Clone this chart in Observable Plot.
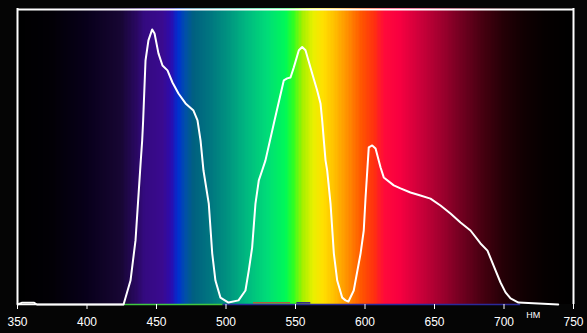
<!DOCTYPE html>
<html>
<head>
<meta charset="utf-8">
<script src="https://cdn.jsdelivr.net/npm/d3@7"></script>
<script src="https://cdn.jsdelivr.net/npm/@observablehq/plot@0.6"></script>
<style>
  html, body { margin: 0; padding: 0; background: #050505; }
  #chart { width: 587px; height: 333px; }
</style>
</head>
<body>
<div id="chart"></div>
<script>
// Spectrum background colour stops (wavelength nm -> colour)
const stopNm = [350, 375, 400, 425, 435, 442, 455, 461, 466, 471, 477, 490, 502, 515, 530, 543, 549, 555, 563, 570, 578, 587, 598, 607, 614, 625, 640, 655, 670, 685, 700, 715, 730, 750];
const stopColor = ["#000000", "#020006", "#08001a", "#170634", "#28085e", "#340a80", "#3a0a90", "#2a0cb0", "#0030d0", "#0050a8", "#006080", "#007880", "#009480", "#00b880", "#00dc78", "#00f858", "#30ff20", "#a0f000", "#e8f000", "#ffe000", "#ffc000", "#ff9400", "#ff5400", "#ff3010", "#ff0a3a", "#f80040", "#cc003a", "#a0002e", "#700020", "#460010", "#240006", "#100002", "#050000", "#000000"];

// Measured curve: wavelength (nm) and relative intensity
const wavelength = [350, 353, 355, 362, 364, 426.3, 431.3, 434.9, 438.7, 439.7, 440.4, 442.1, 444.2, 446.9, 448.6, 451.4, 454.3, 457.9, 461.5, 465.8, 470.9, 476.6, 479.5, 481.7, 483.8, 487.6, 490.1, 492.4, 496, 501.8, 509, 514, 516.4, 518.8, 521.2, 523.6, 526, 528.4, 534.9, 541.6, 544, 546.4, 548.8, 552.4, 554.8, 557.2, 562, 565.6, 568, 569.2, 570.4, 571.6, 572.8, 575.2, 577.6, 580, 583.6, 586, 588.1, 591.9, 596.8, 599.1, 600.4, 602.7, 605.2, 607.6, 611.2, 613.5, 620.7, 625.5, 632.7, 639.9, 647.1, 654.3, 661.5, 668.7, 675.9, 683.1, 688.1, 693.9, 697.5, 701.1, 704.7, 710.4, 739];
const intensity = [0, 0.6, 0.6, 0.6, 0, 0, 8.7, 23.3, 52.4, 59.6, 66.9, 88.7, 96, 100, 98.5, 91.3, 86.9, 85.1, 80.7, 76.7, 73.1, 70.5, 66.9, 59.6, 48.7, 36.7, 18.5, 8.7, 2.5, 0.7, 1.5, 5.1, 12.4, 20.7, 36.7, 45.1, 48.7, 52.4, 66.9, 81.5, 82.2, 82.5, 86.2, 92.4, 93.6, 92.4, 84, 77.8, 73.1, 66.9, 59.6, 52.4, 48.7, 36.7, 18.5, 8.7, 2.5, 1.5, 1.1, 5.1, 18.5, 26.9, 38.9, 57.1, 57.8, 56.7, 49.8, 46.2, 43.3, 42.2, 40.7, 39.6, 38.5, 36, 33.1, 29.8, 26.9, 22.2, 19.6, 12.4, 8, 4.4, 2.2, 0.7, 0];

// Baseline segments (start nm, end nm, colour)
const baseStart = [350, 427, 498];
const baseEnd = [427, 498, 712];
const baseColor = ["#ffffff", "#40c840", "#2a2a9a"];

// Small near-zero traces
const traceStart = [519.8, 551];
const traceEnd = [546.4, 561];
const traceColor = ["#b0603a", "#2a1a90"];

const tickNm = [350, 400, 450, 500, 550, 600, 650, 700, 750];
const unitLabel = "НМ";
const yMax = 107.6;

const curve = wavelength.map((w, i) => ({w, v: intensity[i]}));
const colorAt = d3.scaleLinear().domain(stopNm).range(stopColor).interpolate(d3.interpolateRgb).clamp(true);
const bg = d3.range(350, 750, 1).map(w => ({w, c: colorAt(w + 0.5)}));
const base = baseStart.map((s, i) => ({s, e: baseEnd[i], c: baseColor[i]}));
const traces = traceStart.map((s, i) => ({s, e: traceEnd[i], c: traceColor[i]}));

const chart = Plot.plot({
  width: 587,
  height: 333,
  marginLeft: 17,
  marginRight: 14,
  marginTop: 8,
  marginBottom: 29,
  style: {background: "#050505", color: "#fff", fontFamily: "'Liberation Sans', Arial, sans-serif"},
  x: {domain: [350, 750]},
  y: {domain: [0, yMax], axis: null},
  color: {type: "identity"},
  marks: [
    Plot.rect(bg, {x1: "w", x2: d => d.w + 1.3, fill: "c", shapeRendering: "crispEdges"}),
    Plot.ruleX([350, 750], {stroke: "#fff", strokeWidth: 2}),
    Plot.ruleY([yMax], {stroke: "#fff", strokeWidth: 2, dy: 1}),
    Plot.ruleY(base, {x1: "s", x2: "e", y: 0, stroke: "c", strokeWidth: 1.5}),
    Plot.ruleY(traces, {x1: "s", x2: "e", y: 0.6, stroke: "c", strokeWidth: 1.5}),
    Plot.axisX({ticks: tickNm, tickSize: 5, tickPadding: 8, fontSize: 12, stroke: "#fff", fill: "#fff", label: null}),
    Plot.line(curve, {x: "w", y: "v", stroke: "#fff", strokeWidth: 2, strokeLinejoin: "round"}),
    Plot.text([unitLabel], {x: 721, frameAnchor: "bottom", dy: 13, fill: "#fff", fontSize: 9, letterSpacing: "1px"})
  ]
});
document.getElementById("chart").appendChild(chart);
</script>
</body>
</html>
